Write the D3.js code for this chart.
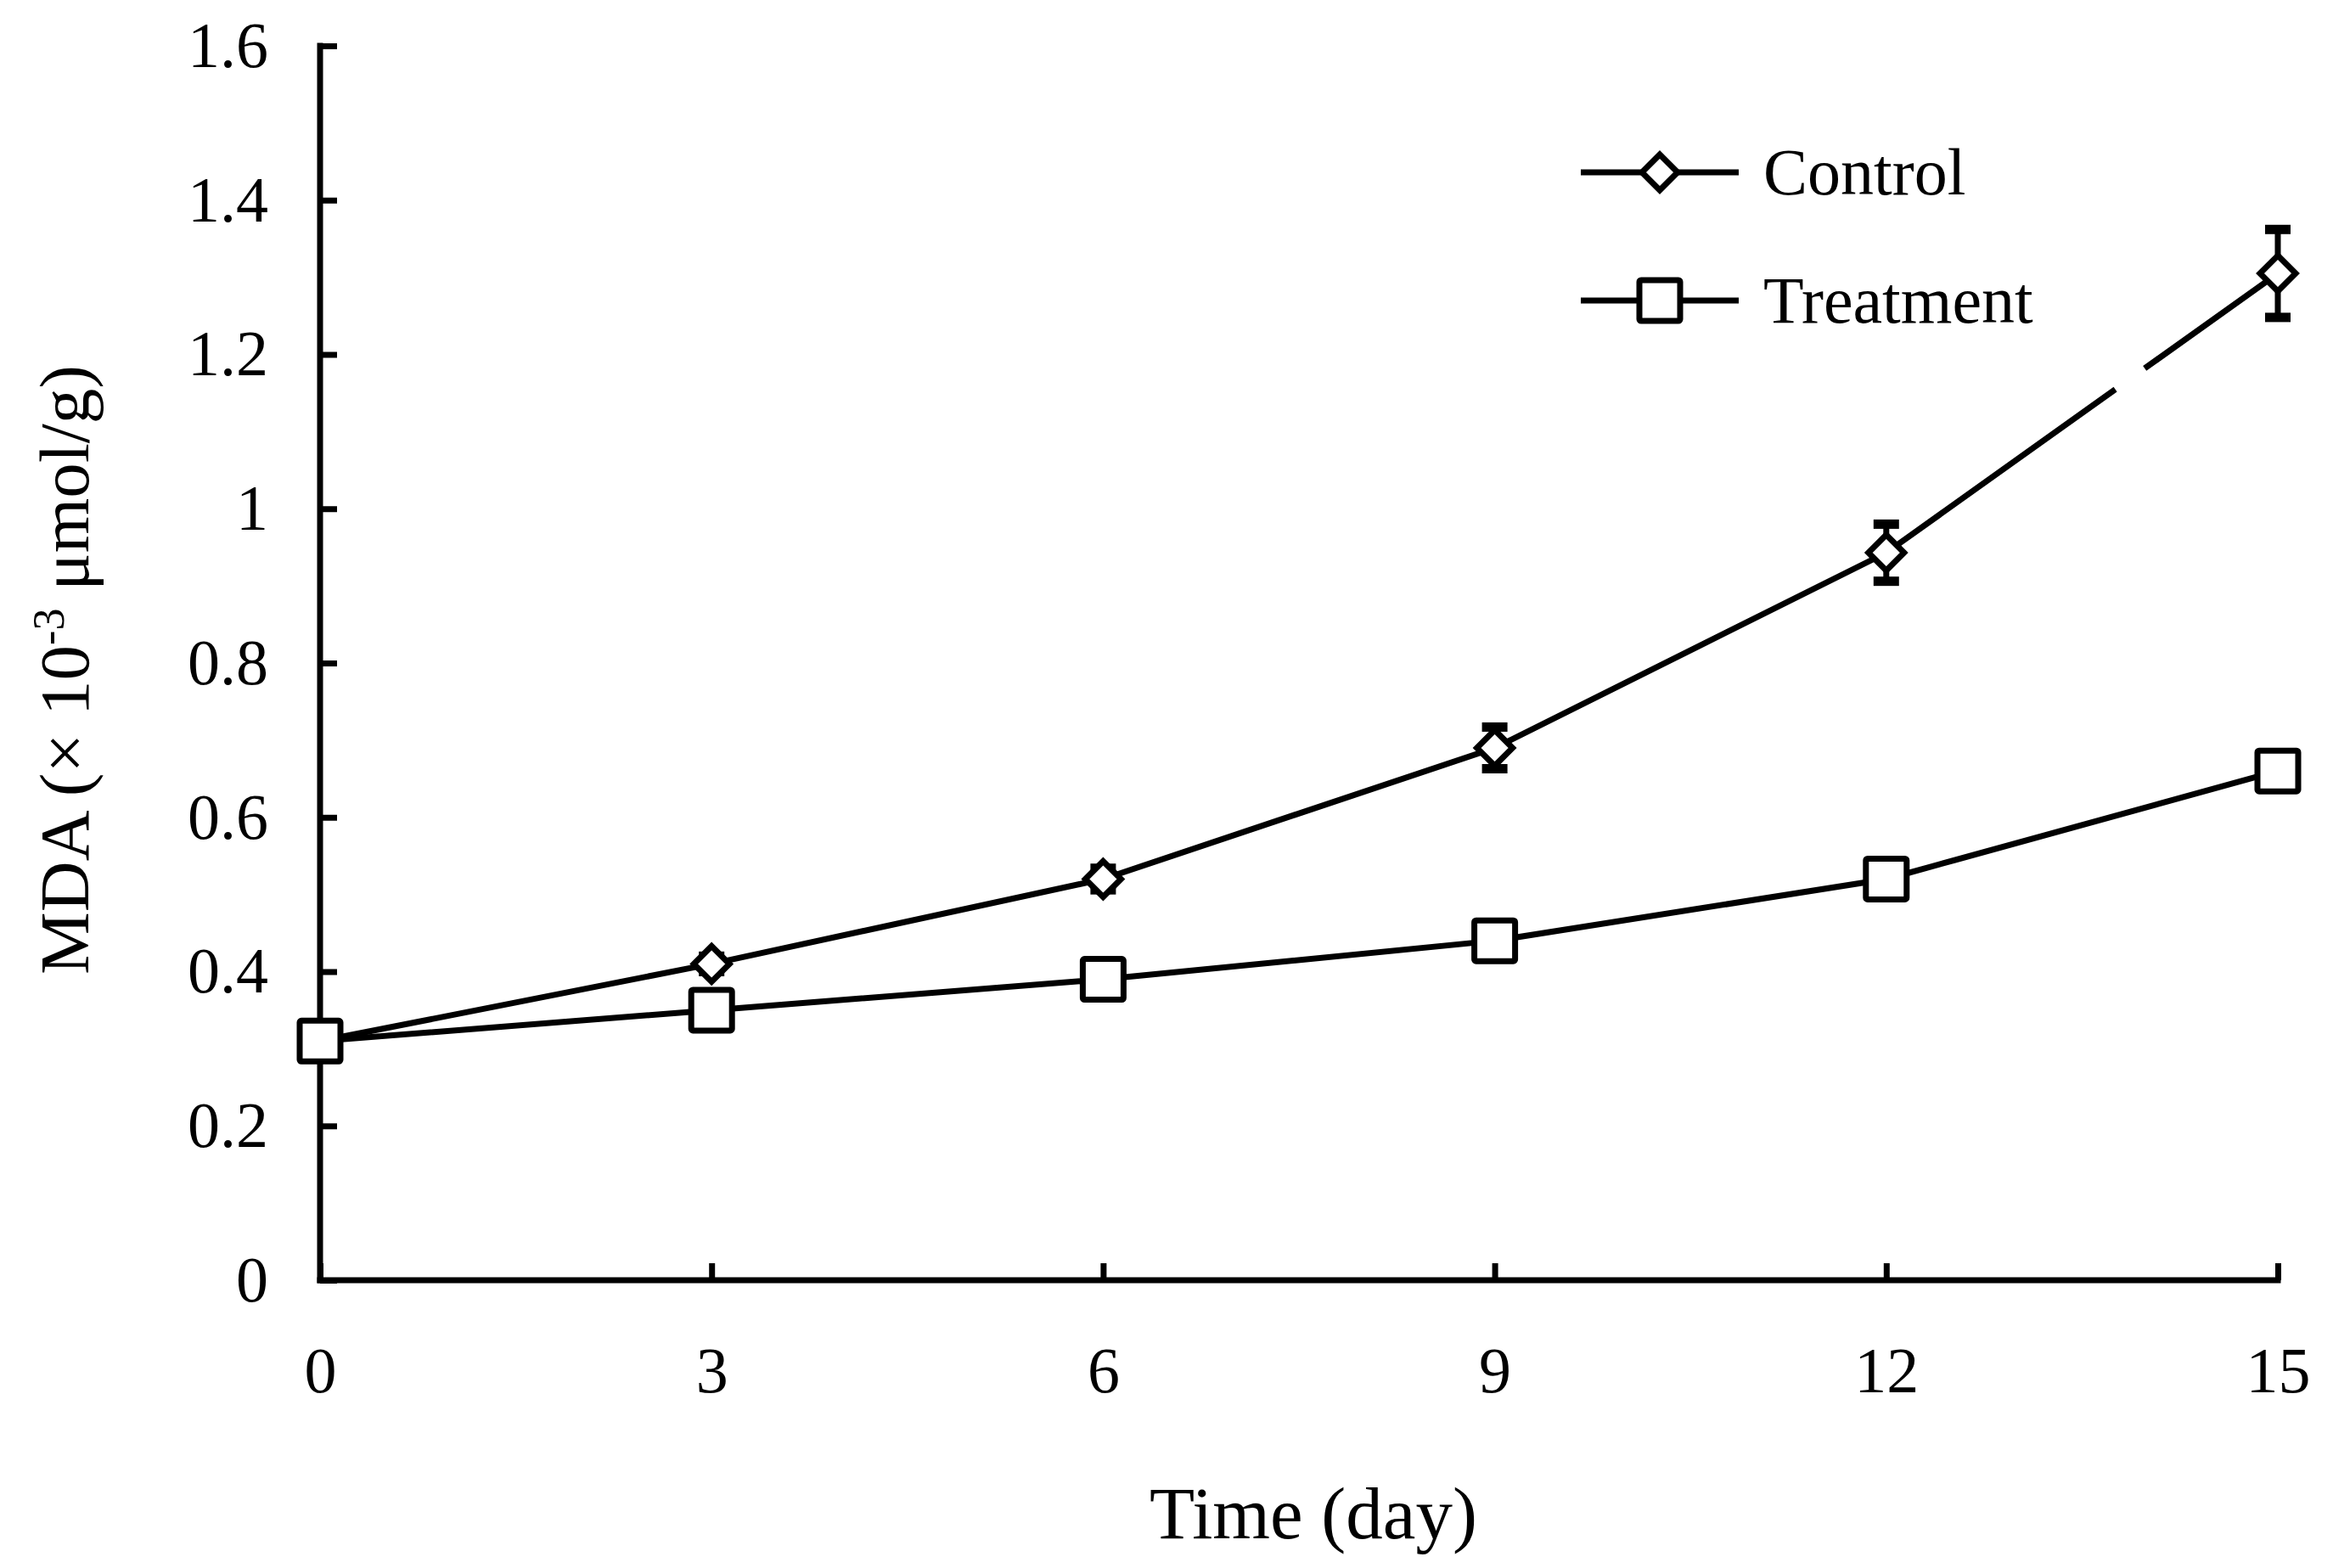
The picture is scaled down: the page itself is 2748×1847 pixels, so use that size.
<!DOCTYPE html>
<html><head><meta charset="utf-8">
<script src="https://cdn.jsdelivr.net/npm/d3@7"></script>
<style>html,body{margin:0;padding:0;background:#fff;}</style>
</head><body>
<script>
const days = [0, 3, 6, 9, 12, 15];
const controlValues = [0.31, 0.41, 0.52, 0.69, 0.943, 1.305];
const controlErrors = [0.005, 0.01, 0.014, 0.027, 0.037, 0.057];
const treatmentValues = [0.31, 0.35, 0.39, 0.44, 0.52, 0.66];
const treatmentErrors = [0.004, 0.006, 0.008, 0.008, 0.01, 0.012];
const yTicks = [0, 0.2, 0.4, 0.6, 0.8, 1, 1.2, 1.4, 1.6];
const seriesNames = ["Control", "Treatment"];

const W = 2748, H = 1847;
const svg = d3.select("body").append("svg").attr("width", W).attr("height", H)
  .style("font-family", "'Liberation Serif','Times New Roman',serif");

const x = d3.scaleLinear().domain([0, 15]).range([377, 2683]);
const y = d3.scaleLinear().domain([0, 1.6]).range([1508, 54]);

const FS = 76;
const SW = 7;

// axes
const yAxis = d3.axisLeft(y).tickValues(yTicks).tickSize(-20).tickPadding(61)
  .tickFormat(d => d3.format("")(+d.toFixed(1)));
const gy = svg.append("g").attr("transform", `translate(${x(0)},0)`).call(yAxis);
const xAxis = d3.axisBottom(x).tickValues(days).tickSize(-20).tickPadding(78);
const gx = svg.append("g").attr("transform", `translate(0,${y(0)})`).call(xAxis);
[gy, gx].forEach(g => {
  g.select(".domain").attr("stroke", "#000").attr("stroke-width", SW).attr("stroke-linecap", "square");
  g.selectAll(".tick line").attr("stroke", "#000").attr("stroke-width", SW);
  g.selectAll(".tick text").attr("fill", "#000").style("font-size", FS + "px").style("font-family", "'Liberation Serif',serif");
});
gy.selectAll(".tick line").attr("x1", 0).attr("x2", 20);
gx.selectAll(".tick line").attr("y1", 0).attr("y2", -20);
gy.select(".domain").attr("d", `M0,${y(1.6)}V${y(0)}`);
gx.select(".domain").attr("d", `M${x(0)},0H${x(15)}`);

// axis titles
svg.append("text").attr("x", (x(0) + x(15)) / 2 + 17).attr("y", 1812).attr("text-anchor", "middle")
  .style("font-size", "87px").text("Time (day)");
const yt = svg.append("text").attr("transform", `translate(104,${(y(0)+y(1.6))/2 + 8}) rotate(-90)`)
  .attr("text-anchor", "middle").style("font-size", "83px").attr("fill", "#000");
yt.append("tspan").text("MDA (× 10");
yt.append("tspan").attr("dy", -29).style("font-size", "52px").text("-3");
yt.append("tspan").attr("dy", 29).text(" μmol/g)");

// series
const series = [
  {name: seriesNames[0], vals: controlValues, errs: controlErrors, shape: "diamond"},
  {name: seriesNames[1], vals: treatmentValues, errs: treatmentErrors, shape: "square"}
];
const line = d3.line().x(d => x(d.d)).y(d => y(d.v));

function drawMarker(g, shape, cx, cy) {
  if (shape === "diamond") {
    g.append("path").attr("d", `M${cx},${cy-21}L${cx+21},${cy}L${cx},${cy+21}L${cx-21},${cy}Z`)
      .attr("fill", "#fff").attr("stroke", "#000").attr("stroke-width", SW).attr("stroke-linejoin", "miter");
  } else {
    g.append("rect").attr("x", cx - 24).attr("y", cy - 24).attr("width", 48).attr("height", 48)
      .attr("fill", "#fff").attr("stroke", "#000").attr("stroke-width", SW).attr("rx", 2);
  }
}

series.forEach((s, si) => {
  const pts = days.map((d, i) => ({d, v: s.vals[i], e: s.errs[i]}));
  const path = svg.append("path").datum(pts).attr("d", line).attr("fill", "none")
    .attr("stroke", "#000").attr("stroke-width", SW);
  if (si === 0) {
    // small break in the last Control segment, as in the original figure
    let acc = 0;
    for (let i = 1; i < pts.length - 1; i++) acc += Math.hypot(x(pts[i].d) - x(pts[i-1].d), y(pts[i].v) - y(pts[i-1].v));
    const n = pts.length - 1;
    const segLen = Math.hypot(x(pts[n].d) - x(pts[n-1].d), y(pts[n].v) - y(pts[n-1].v));
    const total = path.node().getTotalLength();
    const g0 = acc + segLen * 0.585, g1 = acc + segLen * 0.66;
    path.attr("stroke-dasharray", `${g0},${g1 - g0},${total}`);
  }
  const g = svg.append("g");
  pts.forEach(p => {
    g.append("line").attr("x1", x(p.d)).attr("x2", x(p.d)).attr("y1", y(p.v + p.e)).attr("y2", y(p.v - p.e))
      .attr("stroke", "#000").attr("stroke-width", SW);
    [p.v + p.e, p.v - p.e].forEach(v => g.append("line").attr("x1", x(p.d) - 15).attr("x2", x(p.d) + 15)
      .attr("y1", y(v)).attr("y2", y(v)).attr("stroke", "#000").attr("stroke-width", 11));
  });
  pts.forEach(p => drawMarker(g, s.shape, x(p.d), y(p.v)));
});

// legend
const leg = svg.append("g");
series.forEach((s, i) => {
  const ly = 203 + i * 151;
  leg.append("line").attr("x1", 1862).attr("x2", 2048).attr("y1", ly).attr("y2", ly)
    .attr("stroke", "#000").attr("stroke-width", SW);
  drawMarker(leg, s.shape, 1955, ly);
  leg.append("text").attr("x", 2077).attr("y", ly).attr("dy", "0.33em")
    .style("font-size", "78px").text(s.name);
});
</script>
</body></html>
